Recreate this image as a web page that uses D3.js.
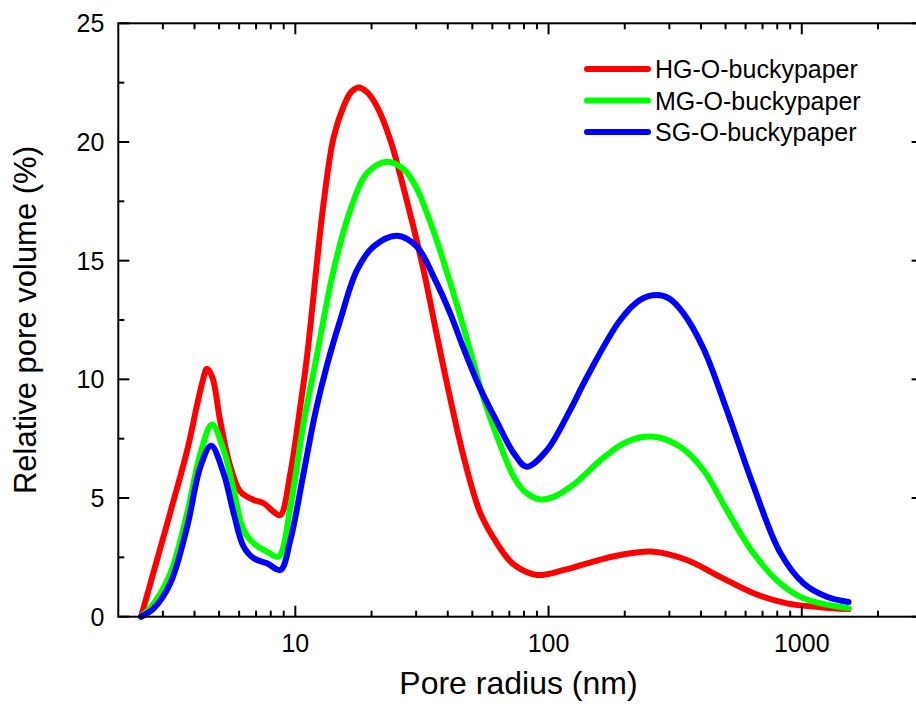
<!DOCTYPE html>
<html><head><meta charset="utf-8">
<script src="https://cdn.jsdelivr.net/npm/d3@7/dist/d3.min.js"></script>
<style>body{margin:0;background:#fff}svg{display:block}text{font-family:"Liberation Sans",Arial,sans-serif;fill:#000}</style>
</head><body><svg id="c" width="916" height="708"></svg>
<script>
const seriesNames = ["HG-O-buckypaper","MG-O-buckypaper","SG-O-buckypaper"];
const seriesColors = ["#ff0000","#00ff00","#0000ff"];
const hgX = [2.46,2.76,3.21,3.74,4.09,4.3,4.48,4.7,5.06,5.54,6.07,6.85,7.5,8.21,8.73,9.56,10.46,11.12,12.93,14.17,15.51,16.6,17.78,19.2,21.0,23.7,27.6,32.1,36.0,39.7,46.2,53.8,62.6,72.8,90,115,142,192,260,352,476,645,873,1182,1530];
const hgY = [0,1.9,4.4,7.0,8.9,9.9,10.45,10.1,8.2,6.32,5.27,4.92,4.78,4.42,4.28,6.04,8.85,10.95,17.41,20.2,21.5,22.1,22.3,22.1,21.5,20.1,17.5,14.6,12.0,9.83,6.74,4.36,3.09,2.2,1.76,1.97,2.25,2.6,2.74,2.39,1.68,0.99,0.56,0.4,0.32];
const mgX = [2.46,2.76,3.21,3.74,4.22,4.69,5.21,5.71,6.25,6.85,7.73,8.59,9.56,10.78,12.0,14.17,16.49,19.19,23.0,26.8,30,35,40,45,50,55,62.6,72.8,80,92,105,125,165,204,260,331,409,506,645,822,1015,1530];
const mgY = [0,0.56,1.83,4.36,6.88,8.1,7.02,5.34,3.65,3.09,2.74,2.53,4.63,8.15,10.67,14.6,17.13,18.68,19.17,18.85,18.1,16.3,14.4,12.6,10.9,9.3,7.6,5.9,5.3,4.95,5.05,5.55,6.7,7.37,7.58,7.16,6.18,4.49,2.67,1.41,0.78,0.36];
const sgX = [2.46,2.76,3.21,3.74,4.22,4.65,5.21,5.71,6.25,6.85,7.73,8.73,9.56,10.78,12.0,13.34,15.05,17.52,20.4,25.2,30.2,35.2,40.9,46.2,53.8,62.6,72.8,82,98.6,121.8,142,192,230,268,300,340,409,506,645,822,1015,1256,1530];
const sgY = [0,0.35,1.41,3.79,6.32,7.2,6.04,4.36,2.95,2.46,2.25,1.97,3.23,6.04,8.6,10.6,12.5,14.6,15.6,16.05,15.59,14.32,12.78,11.3,9.6,8.2,6.9,6.32,7.02,8.71,10.11,12.5,13.35,13.55,13.4,12.8,11.3,8.7,5.5,2.7,1.41,0.84,0.62];
const xMajorTicks = [10,100,1000];
const xMinorTicks = [3,4,5,6,7,8,9,20,30,40,50,60,70,80,90,200,300,400,500,600,700,800,900,2000];
const yMajorTicks = [0,5,10,15,20,25];
const yMinorTicks = [2.5,7.5,12.5,17.5,22.5];
const xTitle = "Pore radius (nm)";
const yTitle = "Relative pore volume (%)";

const svg = d3.select("#c");
const L=118.3, R=922.6, T=23.3, B=616.7;
const x = d3.scaleLog().domain([2,3000]).range([L,R]);
const y = d3.scaleLinear().domain([0,25]).range([B,T]);

const series = [
  {name:seriesNames[0], color:seriesColors[0], xs:hgX, ys:hgY},
  {name:seriesNames[1], color:seriesColors[1], xs:mgX, ys:mgY},
  {name:seriesNames[2], color:seriesColors[2], xs:sgX, ys:sgY}
];
const line = d3.line().x(d=>x(d[0])).y(d=>y(d[1])).curve(d3.curveCatmullRom.alpha(0.5));
const g = svg.append("g");
series.forEach(s=>{
  g.append("path").datum(s.xs.map((v,i)=>[v,s.ys[i]]))
   .attr("d",line).attr("fill","none").attr("stroke",s.color)
   .attr("stroke-width",6).attr("stroke-linejoin","round").attr("stroke-linecap","round");
});

// axes
const ax = svg.append("g").attr("stroke","#000").attr("stroke-width",2);
ax.append("rect").attr("x",L).attr("y",T).attr("width",R-L).attr("height",B-T).attr("fill","none");
const MJ=11, MN=6;
xMajorTicks.forEach(t=>{
  ax.append("line").attr("x1",x(t)).attr("x2",x(t)).attr("y1",B).attr("y2",B-MJ);
  ax.append("line").attr("x1",x(t)).attr("x2",x(t)).attr("y1",T).attr("y2",T+MJ);
});
xMinorTicks.forEach(t=>{
  ax.append("line").attr("x1",x(t)).attr("x2",x(t)).attr("y1",B).attr("y2",B-MN);
  ax.append("line").attr("x1",x(t)).attr("x2",x(t)).attr("y1",T).attr("y2",T+MN);
});
yMajorTicks.forEach(t=>{
  ax.append("line").attr("x1",L).attr("x2",L+MJ).attr("y1",y(t)).attr("y2",y(t));
  ax.append("line").attr("x1",R).attr("x2",R-MJ).attr("y1",y(t)).attr("y2",y(t));
});
yMinorTicks.forEach(t=>{
  ax.append("line").attr("x1",L).attr("x2",L+MN).attr("y1",y(t)).attr("y2",y(t));
  ax.append("line").attr("x1",R).attr("x2",R-MN).attr("y1",y(t)).attr("y2",y(t));
});
svg.append("g").selectAll("text").data(xMajorTicks).join("text")
  .attr("x",d=>x(d)).attr("y",B+35).attr("text-anchor","middle").attr("font-size",25).text(d=>d);
svg.append("g").selectAll("text").data(yMajorTicks).join("text")
  .attr("x",L-14).attr("y",d=>y(d)+9).attr("text-anchor","end").attr("font-size",25).text(d=>d);
svg.append("text").attr("x",(L+R)/2-2).attr("y",694).attr("text-anchor","middle").attr("font-size",32).text(xTitle);
svg.append("text").attr("transform","translate(36,320) rotate(-90)").attr("text-anchor","middle").attr("font-size",31).text(yTitle);

// legend
const lg = svg.append("g");
series.forEach((s,i)=>{
  const yy = 69 + i*31.5;
  lg.append("line").attr("x1",587).attr("x2",648).attr("y1",yy).attr("y2",yy)
    .attr("stroke",s.color).attr("stroke-width",6).attr("stroke-linecap","round");
  lg.append("text").attr("x",655).attr("y",yy+9).attr("font-size",25).text(s.name);
});
</script></body></html>
